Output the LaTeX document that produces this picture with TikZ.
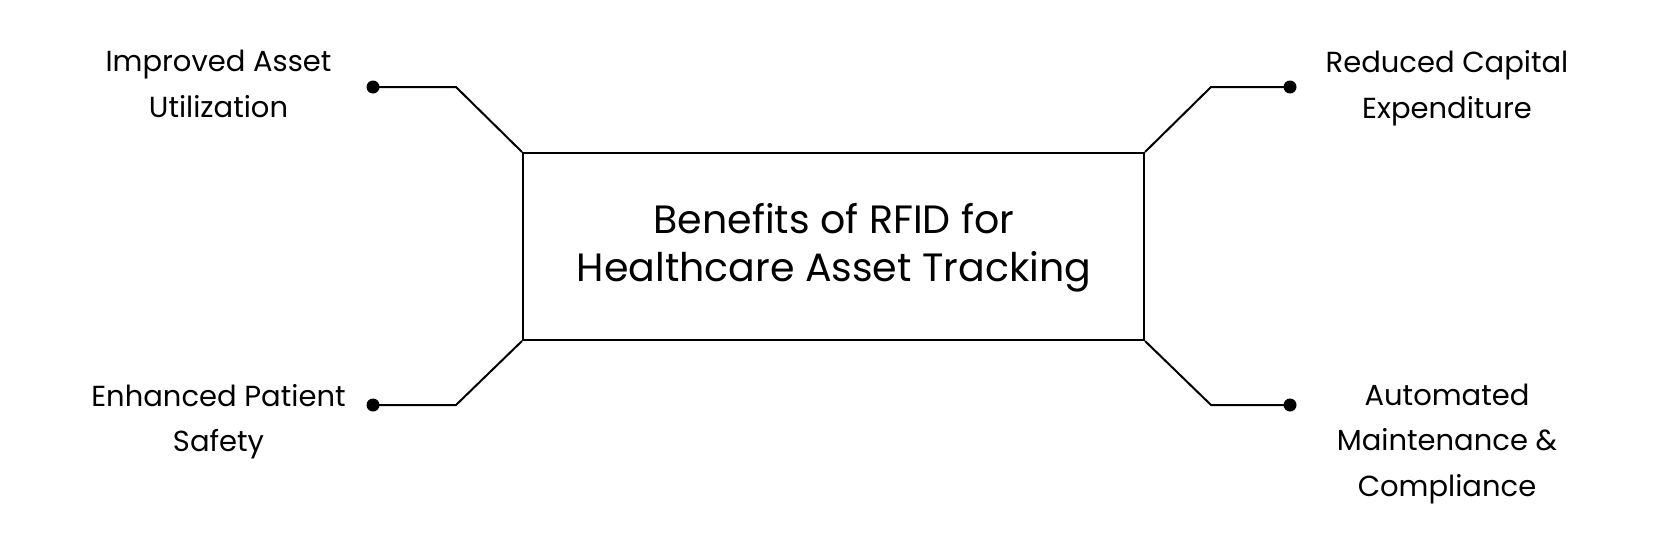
\documentclass[tikz,border=0pt]{standalone}
\usepackage{fontspec}
\setmainfont{Poppins}
\begin{document}
\begin{tikzpicture}[x=1pt,y=-1pt,
  lbl/.style={align=center,inner sep=0pt,font=\fontsize{29}{45.5}\selectfont},
  ttl/.style={align=center,inner sep=0pt,font=\fontsize{39.5}{48}\selectfont},
  frame/.style={draw,line width=2pt},
  conn/.style={draw,line width=2pt,line join=miter},
  dot/.style={circle,fill=black,inner sep=0pt,minimum size=13pt}]
\useasboundingbox[fill=white] (0,0) rectangle (1667,538);
\node[frame,minimum width=621pt,minimum height=187pt,inner sep=0pt] (box) at (833.5,246.5) {};
\node[ttl] (title) at (834,247.5) {Benefits of RFID for\\Healthcare Asset Tracking};
\node[dot] (d1) at (373,87) {};
\node[dot] (d2) at (1290,87) {};
\node[dot] (d3) at (373,405) {};
\node[dot] (d4) at (1290,405) {};
\coordinate (b1) at (456,87);
\coordinate (b2) at (1211,87);
\coordinate (b3) at (456,405);
\coordinate (b4) at (1211,405);
\draw[conn] (box.north west) -- (b1) -- (d1.center);
\draw[conn] (box.north east) -- (b2) -- (d2.center);
\draw[conn] (box.south west) -- (b3) -- (d3.center);
\draw[conn] (box.south east) -- (b4) -- (d4.center);
\node[lbl] (t1) at (218.5,84) {Improved Asset\\Utilization};
\node[lbl] (t2) at (1447,88) {Reduced Capital\\Expenditure};
\node[lbl] (t3) at (218.5,421.5) {Enhanced Patient\\Safety};
\node[lbl] (t4) at (1447,444) {Automated\\Maintenance \&\\Compliance};
\end{tikzpicture}
\end{document}
